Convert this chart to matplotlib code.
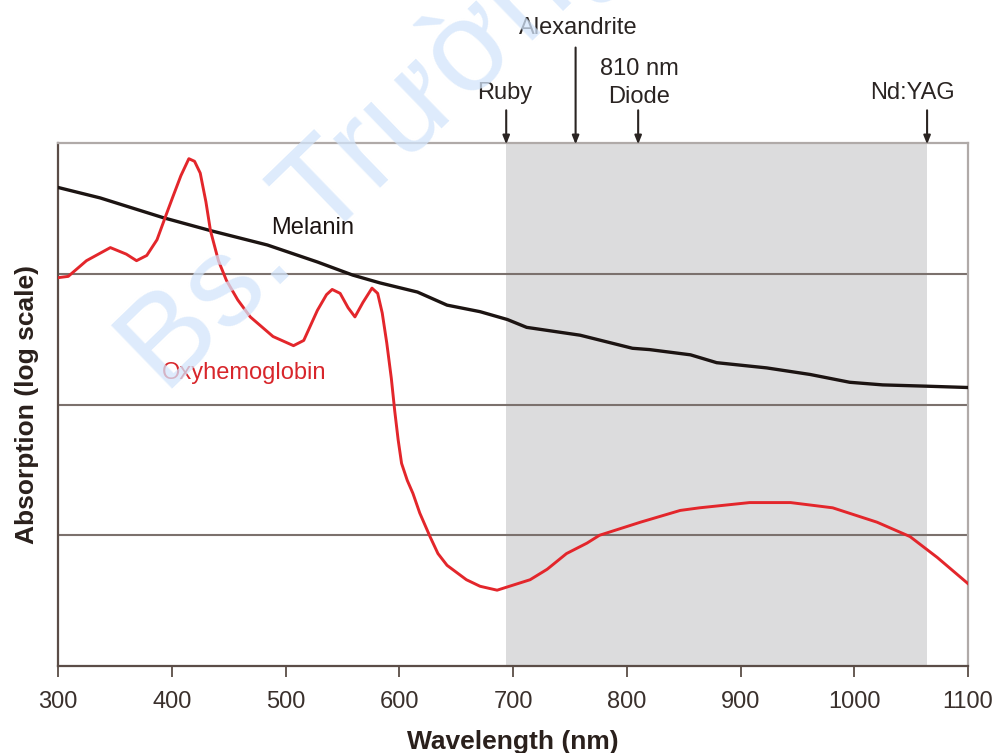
import matplotlib
matplotlib.use("Agg")
import matplotlib.pyplot as plt

# wavelengths (nm) and absorption (log units, arbitrary)
melanin_nm = [300, 337, 392, 434, 484, 528, 559, 583, 616, 642, 671, 695, 712,
              759, 805, 820, 856, 879, 923, 961, 996, 1025, 1064, 1100]
melanin_abs = [3.66, 3.58, 3.43, 3.33, 3.22, 3.09, 2.99, 2.93, 2.86, 2.76, 2.71,
               2.65, 2.59, 2.53, 2.43, 2.42, 2.38, 2.32, 2.28, 2.23, 2.17, 2.15,
               2.14, 2.13]

oxy_nm = [300, 309, 325, 346, 360, 369, 378, 387, 395, 401, 408, 415, 420, 425,
          430, 434, 441, 448, 458, 469, 489, 507, 516, 528, 536, 541, 548, 555,
          561, 568, 576, 581, 585, 589, 593, 596, 599, 602, 607, 612, 618, 627,
          634, 642, 659, 671, 686, 715, 730, 747, 765, 776, 812, 847, 864, 908,
          944, 981, 1020, 1049, 1073, 1100]
oxy_abs = [2.97, 2.98, 3.10, 3.20, 3.15, 3.10, 3.14, 3.26, 3.45, 3.59, 3.75,
           3.88, 3.86, 3.77, 3.55, 3.33, 3.10, 2.95, 2.80, 2.67, 2.52, 2.45,
           2.49, 2.72, 2.84, 2.88, 2.85, 2.74, 2.67, 2.78, 2.89, 2.85, 2.70,
           2.47, 2.20, 1.95, 1.73, 1.55, 1.42, 1.32, 1.17, 0.99, 0.86, 0.77,
           0.66, 0.61, 0.58, 0.66, 0.74, 0.86, 0.94, 1.00, 1.10, 1.19, 1.21,
           1.25, 1.25, 1.21, 1.10, 0.99, 0.83, 0.63]

# lasers and their wavelengths (nm)
lasers = ["Ruby", "Alexandrite", "810 nm\nDiode", "Nd:YAG"]
laser_nm = [694, 755, 810, 1064]

xticks = [300, 400, 500, 600, 700, 800, 900, 1000, 1100]

narrow = ["Liberation Sans Narrow", "Liberation Sans", "DejaVu Sans"]
sans = ["Liberation Sans", "DejaVu Sans"]

fig = plt.figure(figsize=(9.99, 7.53), dpi=100)
ax = fig.add_axes([0.0581, 0.1155, 0.9109, 0.6946])

ax.axvspan(694, 1064, color="#dcdcdd", lw=0, zorder=0)
for yy in [1, 2, 3]:
    ax.axhline(yy, color="#7b716d", lw=1.5, zorder=1)

ax.plot(melanin_nm, melanin_abs, color="#1c1412", lw=2.4, zorder=3)
ax.plot(oxy_nm, oxy_abs, color="#e3262b", lw=2.1, zorder=3)

ax.set_xlim(300, 1100)
ax.set_ylim(0, 4)
ax.set_xticks(xticks)
ax.set_xticklabels([str(t) for t in xticks], fontsize=17, family=narrow,
                   color="#3a302c")
ax.set_yticks([])
ax.tick_params(axis="x", direction="out", length=8, width=1.3, color="#5b4d47",
               pad=10)

for s in ["left", "bottom"]:
    ax.spines[s].set_color("#5b4d47")
    ax.spines[s].set_linewidth(1.6)
for s in ["top", "right"]:
    ax.spines[s].set_color("#b0aaa8")
    ax.spines[s].set_linewidth(1.6)

ax.set_xlabel("Wavelength (nm)", fontsize=19, family=narrow, weight="bold",
              color="#2a201c", labelpad=12)
ax.set_ylabel("Absorption (log scale)", fontsize=19, family=narrow,
              weight="bold", color="#2a201c", labelpad=14)

ax.text(524, 3.35, "Melanin", fontsize=17, family=sans, color="#1c1412",
        ha="center", va="center")
ax.text(391, 2.24, "Oxyhemoglobin", fontsize=17, family=sans, color="#d8262b",
        ha="left", va="center")

# laser arrows above the plot
starts = [4.25, 4.73, 4.25, 4.25]
label_pos = [(693, 4.38), (757, 4.88), (811, 4.46), (1051, 4.38)]
for name, nm, y0, (lx, ly) in zip(lasers, laser_nm, starts, label_pos):
    ax.annotate("", xy=(nm, 3.99), xytext=(nm, y0), annotation_clip=False,
                arrowprops=dict(arrowstyle="-|>,head_length=0.5,head_width=0.2",
                                color="#2a2422", lw=1.5, shrinkA=0, shrinkB=0))
    ax.text(lx, ly, name, fontsize=17, family=sans, color="#2a2422",
            ha="center", va="center", linespacing=1.35, clip_on=False)

# faint watermark
fig.text(0.165, 0.475, "Bs. Trường Giang", fontsize=92, family=sans,
         color="#d3e5fb", alpha=0.75, rotation=44, rotation_mode="anchor",
         ha="left", va="baseline", zorder=10)

fig.savefig("out.png", dpi=100)
